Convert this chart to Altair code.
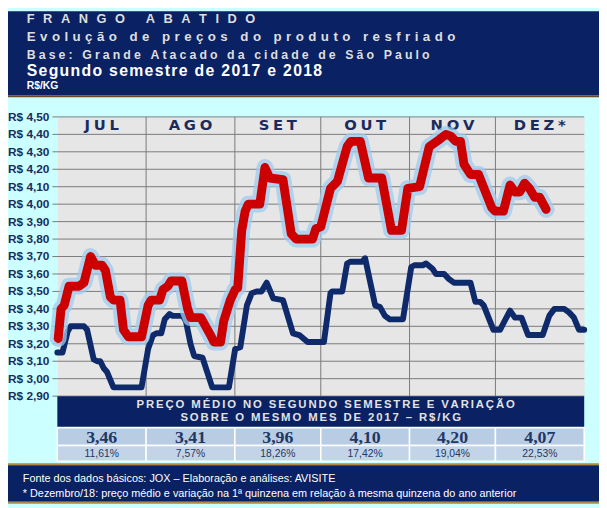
import altair as alt
import pandas as pd

# ---------------- data ----------------
months = ["JUL", "AGO", "SET", "OUT", "NOV", "DEZ*"]
month_bounds = [0, 31, 62, 92, 123, 153, 184]
avg_price = ["3,46", "3,41", "3,96", "4,10", "4,20", "4,07"]
variation = ["11,61%", "7,57%", "18,26%", "17,42%", "19,04%", "22,53%"]
y_ticks = [2.90, 3.00, 3.10, 3.20, 3.30, 3.40, 3.50, 3.60, 3.70, 3.80,
           3.90, 4.00, 4.10, 4.20, 4.30, 4.40, 4.50]

# 2018 (red) – day of semester / R$ per kg
red_day = [0.3, 1.3, 2.4, 4.1, 7.6, 9.3, 11.6, 13.3, 15.6, 16.8, 18.5, 19.6, 21.9, 23.1, 24.8,
           29.4, 31.7, 32.8, 35.7, 36.9, 38.6, 39.7, 43.5, 45.5, 46.6, 50.1, 53.5, 54.7, 57.0,
           58.1, 60.4, 62.1, 63.0, 64.4, 65.6, 66.7, 70.7, 72.5, 74.2, 78.8, 81.7, 83.4, 89.1,
           90.3, 92.0, 95.4, 97.8, 101.2, 102.5, 105.8, 108.7, 113.3, 116.7, 120.2, 122.4,
           126.5, 129.9, 133.4, 135.7, 137.4, 139.1, 140.8, 142.0, 144.3, 147.1, 148.3, 151.7,
           152.9, 155.8, 158.1, 159.8, 161.5, 163.2, 164.9, 166.7, 168.4, 170.7]
red_val = [3.23, 3.40, 3.42, 3.53, 3.53, 3.55, 3.70, 3.65, 3.65, 3.62, 3.47, 3.45, 3.45, 3.28, 3.24,
           3.24, 3.42, 3.45, 3.45, 3.51, 3.53, 3.56, 3.56, 3.40, 3.35, 3.35, 3.25, 3.21, 3.21,
           3.33, 3.45, 3.51, 3.52, 3.85, 3.96, 4.00, 4.00, 4.21, 4.15, 4.14, 3.83, 3.80, 3.80,
           3.86, 3.87, 4.09, 4.13, 4.33, 4.36, 4.36, 4.15, 4.15, 3.85, 3.85, 4.09,
           4.10, 4.33, 4.37, 4.40, 4.39, 4.36, 4.36, 4.23, 4.17, 4.17, 4.12, 3.98,
           3.96, 3.96, 4.11, 4.07, 4.07, 4.12, 4.09, 4.04, 4.04, 3.97]

# 2017 (blue)
blue_day = [0, 1.8, 3.6, 4.7, 9.3, 10.4, 12.7, 13.9, 15.0, 16.2, 17.3, 19.6, 29.4, 31.7, 33.4,
            34.6, 36.3, 37.5, 39.2, 40.3, 43.8, 44.9, 46.5, 47.8, 50.7, 54.1, 59.9, 62.1, 63.9,
            66.2, 67.9, 69.6, 71.3, 73.1, 75.4, 78.8, 82.3, 84.5, 87.4, 93.1, 95.4, 96.0, 99.5,
            101.2, 102.3, 106.4, 107.5, 111.0, 112.7, 114.4, 116.1, 120.7, 123.6, 124.7, 127.6,
            128.8, 131.0, 132.2, 135.1, 136.8, 138.5, 144.3, 146.0, 147.7, 148.9, 152.3, 154.6,
            158.1, 159.8, 162.1, 164.4, 169.5, 171.8, 173.6, 177.0, 178.7, 180.4, 182.2, 184]
blue_val = [3.15, 3.15, 3.27, 3.30, 3.30, 3.28, 3.11, 3.10, 3.10, 3.06, 3.04, 2.95, 2.95, 3.17, 3.25,
            3.26, 3.26, 3.34, 3.37, 3.36, 3.36, 3.33, 3.20, 3.13, 3.12, 2.95, 2.95, 3.17, 3.18,
            3.42, 3.49, 3.50, 3.50, 3.55, 3.46, 3.45, 3.26, 3.25, 3.21, 3.21, 3.49, 3.50, 3.50,
            3.66, 3.67, 3.67, 3.69, 3.42, 3.41, 3.36, 3.34, 3.34, 3.64, 3.65, 3.65,
            3.66, 3.63, 3.60, 3.60, 3.57, 3.55, 3.55, 3.44, 3.44, 3.42, 3.28, 3.28,
            3.39, 3.35, 3.35, 3.25, 3.25, 3.36, 3.40, 3.40, 3.38, 3.35, 3.28, 3.28]

title_lines = ["FRANGO ABATIDO",
               "Evolução de preços do produto resfriado",
               "Base: Grande Atacado da cidade de São Paulo",
               "Segundo semestre de 2017 e 2018",
               "R$/KG"]
table_title = ["PREÇO MÉDIO NO SEGUNDO SEMESTRE E VARIAÇÃO",
               "SOBRE O MESMO MES DE 2017 – R$/KG"]
footer_lines = ["Fonte dos dados básicos: JOX – Elaboração e análises: AVISITE",
                "* Dezembro/18: preço médio e variação na 1ª quinzena em relação à mesma quinzena do ano anterior"]

# ---------------- helpers ----------------
NAVY = "#0a2163"
TXT = "#1b2c5c"
GRID = "#7a7a7a"
SANS = "Liberation Sans, Arial, sans-serif"
NARROW = "Liberation Sans Narrow, Arial Narrow, Liberation Sans, Arial, sans-serif"
W, H = 534, 283
L0, R0 = -58, 549  # full-width extents in plot coordinates


def spaced(s, gap):
    out = []
    for i, ch in enumerate(s):
        out.append("\u00a0" if ch == " " else ch)
        if i < len(s) - 1:
            out.append(gap)
    return "".join(out)


one = pd.DataFrame({"k": [0]})


def band(y0, y1, color):
    return alt.Chart(one).mark_rect(color=color).encode(
        x=alt.value(L0), x2=alt.value(R0), y=alt.value(y0), y2=alt.value(y1))


def label(text, x, y, size, color, font=SANS, weight="bold", align="left"):
    return alt.Chart(one).mark_text(
        align=align, baseline="alphabetic", font=font, fontSize=size,
        fontWeight=weight, color=color).encode(
        x=alt.value(x), y=alt.value(y), text=alt.value(text))


red_df = pd.DataFrame({"day": red_day, "v": red_val})
blue_df = pd.DataFrame({"day": blue_day, "v": blue_val})
tick_df = pd.DataFrame({"v": y_ticks,
                        "lab": ["R$ " + f"{t:.2f}".replace(".", ",") for t in y_ticks]})
xs = alt.Scale(domain=[0, 184], nice=False, zero=False)
ys = alt.Scale(domain=[2.9, 4.5], nice=False, zero=False)

mon_df = pd.DataFrame({
    "start": month_bounds[:-1], "end": month_bounds[1:],
    "mid": [(a + b) / 2 for a, b in zip(month_bounds[:-1], month_bounds[1:])],
    "m": [spaced(m, "\u2005") for m in months],
    "avg": avg_price, "var": variation})
sep_df = pd.DataFrame({"day": month_bounds[1:-1]})

# horizontal grid lines + left ticks, and the price labels, drawn from the tick list
grid = alt.Chart(tick_df).mark_rule(color=GRID, strokeWidth=1).encode(
    y=alt.Y("v:Q", scale=ys, axis=None), x=alt.value(-5), x2=alt.value(W))
ylabels = alt.Chart(tick_df).mark_text(
    align="right", baseline="middle", font=SANS, fontWeight="bold", fontSize=12,
    color=TXT).encode(y=alt.Y("v:Q", scale=ys), x=alt.value(-8), text="lab:N")

seps = alt.Chart(sep_df).mark_rule(color=GRID, strokeWidth=1).encode(
    x=alt.X("day:Q", scale=xs, axis=None), y=alt.value(0), y2=alt.value(H))

mon_labels = alt.Chart(mon_df).mark_text(
    font="DejaVu Sans, Liberation Sans, sans-serif", fontWeight="bold", fontSize=15, color=TXT,
    baseline="alphabetic").encode(x=alt.X("mid:Q", scale=xs), y=alt.value(13), text="m:N")

blue = alt.Chart(blue_df).mark_line(color="#0f2a6b", strokeWidth=6, strokeJoin="round",
                                    strokeCap="round").encode(
    x=alt.X("day:Q", scale=xs), y=alt.Y("v:Q", scale=ys))
glow = alt.Chart(red_df).mark_line(color="#9ecbef", strokeWidth=17, opacity=0.75,
                                   strokeJoin="round", strokeCap="round").encode(
    x=alt.X("day:Q", scale=xs), y=alt.Y("v:Q", scale=ys))
red = alt.Chart(red_df).mark_line(color="#cc0000", strokeWidth=9, strokeJoin="round",
                                  strokeCap="round").encode(
    x=alt.X("day:Q", scale=xs), y=alt.Y("v:Q", scale=ys))

# title band
title_layers = [
    band(-107, -22, NAVY),
    band(-22, -20, "#6b4a22"),
    label(spaced(title_lines[0], "\u2004\u2004"), -31, -95, 13, "#dedede"),
    label(spaced(title_lines[1], "\u2004"), -31, -77, 13.5, "#dedede"),
    label(spaced(title_lines[2], "\u2005"), -31, -59, 12.5, "#dedede"),
    label(spaced(title_lines[3], "\u200a"), -31, -41, 16, "#ffffff"),
    label(title_lines[4], -31, -28, 10.5, "#ffffff"),
]

# table
tbl_layers = [
    alt.Chart(one).mark_rect(color=NAVY).encode(
        x=alt.value(0), x2=alt.value(W), y=alt.value(H), y2=alt.value(H + 31)),
    label(spaced(table_title[0], "\u2006"), W / 2 + 5, H + 12, 11.5, "#e2e2e2", align="center"),
    label(spaced(table_title[1], "\u2006"), W / 2, H + 25, 11.5, "#e2e2e2", align="center"),
    alt.Chart(mon_df).mark_rect(fill="#b8cce4", stroke="#ffffff", strokeWidth=1.5).encode(
        x=alt.X("start:Q", scale=xs), x2="end:Q", y=alt.value(H + 32), y2=alt.value(H + 50)),
    alt.Chart(mon_df).mark_rect(fill="#c3d4e9", stroke="#ffffff", strokeWidth=1.5).encode(
        x=alt.X("start:Q", scale=xs), x2="end:Q", y=alt.value(H + 50), y2=alt.value(H + 66)),
    alt.Chart(mon_df).mark_text(font="Liberation Serif, Times New Roman, serif", fontWeight="bold",
                                fontSize=18, color="#1f3864", baseline="alphabetic").encode(
        x=alt.X("mid:Q", scale=xs), y=alt.value(H + 47), text="avg:N"),
    alt.Chart(mon_df).mark_text(font=NARROW, fontSize=10.5,
                                color="#1f3864", baseline="alphabetic").encode(
        x=alt.X("mid:Q", scale=xs), y=alt.value(H + 62), text="var:N"),
]

# footer
foot_layers = [
    band(H + 68, H + 70, "#b08a45"),
    band(H + 70, H + 107, NAVY),
    band(H + 107, H + 109, "#b08a45"),
    label(footer_lines[0], -35, H + 87, 11, "#ffffff", font=NARROW, weight="normal"),
    label(footer_lines[1], -35, H + 102, 11, "#ffffff", font=NARROW, weight="normal"),
]

chart = alt.layer(
    grid, ylabels, seps, mon_labels, blue, glow, red, *title_layers, *tbl_layers, *foot_layers
).properties(
    width=W, height=H,
    padding={"left": 50, "top": 107, "right": 15, "bottom": 110},
    autosize=alt.AutoSizeParams(type="none"),
    background="#ccffff",
).configure_view(fill="#e6e6e6", stroke="transparent")

chart.save("out.html", embed_options={"renderer": "svg", "actions": False})
